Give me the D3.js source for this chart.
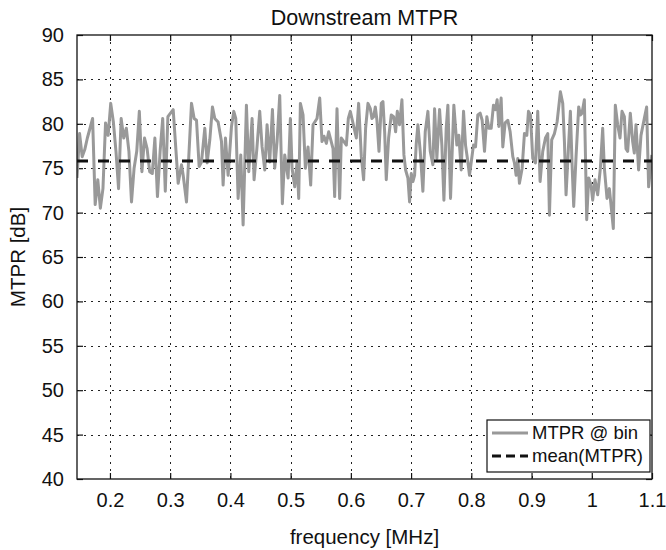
<!DOCTYPE html>
<html><head><meta charset="utf-8">
<script src="https://cdn.jsdelivr.net/npm/d3@7"></script>
<style>
body{margin:0;background:#fff}
svg text{font-family:"Liberation Sans",Arial,Helvetica,sans-serif;fill:#111}
</style>
</head><body>
<svg id="chart" width="666" height="550"></svg>
<script>
// ---- data ----
const frequencies = [
0.1453,0.1496,0.1539,0.1582,0.1625,0.1669,0.1712,0.1755,0.1798,0.1841,0.1884,0.1927,0.1970,0.2013,0.2057,0.2100,0.2143,0.2186,0.2229,0.2272,0.2315,0.2358,0.2401,0.2445,0.2488,0.2531,0.2574,0.2617,0.2660,0.2703,0.2746,0.2789,0.2833,0.2876,0.2919,0.2962,
0.3050,
0.3133,0.3188,0.3216,0.3271,0.3354,0.3398,0.3437,0.3481,0.3520,0.3575,0.3614,0.3658,0.3702,0.3741,0.3796,0.3852,0.3879,0.3918,0.3962,0.4018,0.4056,0.4089,0.4128,0.4172,0.4211,0.4266,0.4305,0.4360,0.4393,0.4438,0.4487,0.4526,
0.4571,0.4609,0.4653,0.4698,0.4736,0.4775,0.4819,0.4863,0.4902,0.4958,0.4996,0.5024,0.5068,0.5107,0.5134,0.5162,0.5206,0.5245,0.5289,0.5333,0.5372,0.5438,0.5483,0.5521,0.5554,0.5593,0.5632,0.5704,0.5731,0.5770,0.5814,0.5842,0.5925,0.5958,0.5991,0.6091,
0.6129,0.6174,0.6212,0.6245,0.6284,0.6323,0.6350,0.6378,0.6406,0.6433,0.6467,0.6505,0.6533,0.6561,0.6588,0.6627,0.6671,0.6710,0.6743,0.6771,0.6809,0.6848,0.6881,0.6909,0.6947,0.6975,0.7003,0.7030,0.7058,0.7086,0.7113,0.7152,0.7196,0.7235,0.7279,0.7318,0.7362,0.7390,0.7428,0.7473,0.7511,0.7545,0.7583,0.7611,0.7655,0.7710,
0.7760,0.7793,0.7832,0.7871,0.7904,0.7943,0.7970,0.8036,0.8070,0.8108,0.8147,0.8180,0.8219,0.8258,0.8291,0.8330,0.8368,0.8401,0.8429,0.8457,0.8495,0.8523,0.8562,0.8606,0.8645,0.8689,0.8716,0.8744,0.8772,0.8799,0.8844,0.8882,0.8921,0.8949,0.8982,0.9020,0.9065,0.9103,0.9142,0.9186,0.9231,0.9269,
0.9297,0.9335,0.9380,0.9424,0.9479,0.9518,0.9546,0.9573,0.9612,0.9645,0.9673,0.9700,0.9739,0.9783,0.9811,0.9838,0.9877,0.9916,0.9949,0.9988,1.0015,1.0054,1.0098,1.0143,1.0181,1.0209,1.0253,1.0292,1.0319,1.0358,1.0391,1.0430,1.0469,1.0502,1.0541,1.0568,1.0596,1.0640,1.0679,1.0706,1.0734,1.0778,1.0817,1.0872,1.0911,1.0944,1.0997
];
const mtprValues = [
73.9,78.9,76.3,77.1,78.4,79.5,80.6,70.9,73.7,70.5,72.7,80.1,78.7,82.3,80.2,76.9,72.7,80.6,78.4,79.5,76.9,71.2,75.0,76.9,81.4,74.6,78.4,77.2,74.6,74.4,78.4,71.8,76.9,80.6,72.4,80.8,
81.6,
73.3,75.4,74.2,71.2,82.3,80.6,80.4,75.2,75.7,79.5,75.6,78.2,81.9,80.6,80.2,78.0,73.1,78.4,74.2,79.7,81.4,80.6,71.6,76.5,68.6,82.1,74.6,80.6,73.7,77.1,81.4,77.4,
74.8,79.9,75.7,81.6,75.0,78.0,83.2,71.0,76.5,73.9,80.6,75.0,72.9,75.7,71.6,82.3,81.0,75.0,77.4,73.1,79.9,80.6,82.9,78.0,78.6,77.8,79.1,77.2,71.8,81.7,71.6,78.4,77.6,80.6,81.4,78.4,
82.3,76.3,73.7,79.5,82.3,81.7,80.6,80.8,81.9,80.4,76.9,82.3,82.5,79.1,73.7,78.4,81.0,80.8,79.1,81.4,79.9,82.7,76.5,74.8,73.9,71.2,74.4,73.5,74.2,77.8,79.9,76.9,72.4,79.1,81.4,76.9,75.4,81.7,76.1,81.6,77.6,71.4,79.5,82.1,71.6,82.1,
77.6,78.7,74.8,81.4,77.6,75.7,74.2,77.6,77.4,81.0,81.2,80.4,76.9,80.8,79.5,79.5,82.1,81.6,82.7,79.7,82.9,77.4,80.1,80.4,79.1,76.3,75.6,74.2,76.1,73.3,75.0,78.9,78.7,81.4,81.0,76.1,75.6,81.4,73.5,76.9,78.4,78.9,
69.7,78.2,78.9,80.2,83.6,82.3,78.0,72.0,77.2,81.4,75.4,70.7,76.3,81.9,81.0,81.2,82.7,69.2,73.9,73.1,71.4,73.7,72.0,75.0,79.5,75.0,71.6,72.7,70.9,68.2,82.1,79.9,78.4,81.4,80.8,77.2,76.9,81.2,78.0,76.7,79.9,74.8,78.7,80.6,81.9,72.9,76.5
];
const meanMtpr = 75.8;
const xTickValues = [0.2,0.3,0.4,0.5,0.6,0.7,0.8,0.9,1,1.1];
const yTickValues = [40,45,50,55,60,65,70,75,80,85,90];
const xDomain = [0.1453, 1.1];
const yDomain = [40, 90];
const legendLabels = ["MTPR @ bin", "mean(MTPR)"];
const titleText = "Downstream MTPR";
const xLabelText = "frequency [MHz]";
const yLabelText = "MTPR [dB]";

// ---- layout ----
const svg = d3.select("#chart");
const L = 77, R = 652, T = 35, B = 479;
const x = d3.scaleLinear().domain(xDomain).range([L, R]);
const y = d3.scaleLinear().domain(yDomain).range([B, T]);

svg.append("rect").attr("width",666).attr("height",550).attr("fill","#fff");
svg.append("defs").append("clipPath").attr("id","plotclip")
  .append("rect").attr("x",L).attr("y",T).attr("width",R-L).attr("height",B-T);

// grid
const grid = svg.append("g").attr("stroke","#222").attr("stroke-width",1).attr("stroke-dasharray","2,5");
grid.selectAll("line.gx").data(xTickValues.filter(v=>v<1.1)).join("line")
  .attr("x1",d=>Math.round(x(d))+0.5).attr("x2",d=>Math.round(x(d))+0.5).attr("y1",T).attr("y2",B);
grid.selectAll("line.gy").data(yTickValues.filter(v=>v>40&&v<90)).join("line")
  .attr("y1",d=>Math.round(y(d))+0.5).attr("y2",d=>Math.round(y(d))+0.5).attr("x1",L).attr("x2",R);

// axes
const axisStyle = g => {
  g.select(".domain").remove();
  g.selectAll(".tick line").attr("stroke","#111").attr("stroke-width",1.2);
  g.selectAll(".tick text").attr("fill","#111").style("font-size","20px")
    .style("font-family",'"Liberation Sans",Arial,sans-serif');
};
svg.append("g").attr("transform",`translate(0,${B})`)
  .call(d3.axisBottom(x).tickValues(xTickValues).tickFormat(d=>String(d)).tickSizeInner(-6).tickSizeOuter(0).tickPadding(14))
  .call(axisStyle);
svg.append("g").attr("transform",`translate(0,${T})`)
  .call(d3.axisTop(x).tickValues(xTickValues).tickFormat("").tickSizeInner(-6).tickSizeOuter(0))
  .call(axisStyle);
svg.append("g").attr("transform",`translate(${L},0)`)
  .call(d3.axisLeft(y).tickValues(yTickValues).tickFormat(d=>String(d)).tickSizeInner(-6).tickSizeOuter(0).tickPadding(13))
  .call(axisStyle);
svg.append("g").attr("transform",`translate(${R},0)`)
  .call(d3.axisRight(y).tickValues(yTickValues).tickFormat("").tickSizeInner(-6).tickSizeOuter(0))
  .call(axisStyle);

// series
const pts = frequencies.map((f,i)=>[f, mtprValues[i]]);
const plot = svg.append("g").attr("clip-path","url(#plotclip)");
plot.append("path").datum(pts)
  .attr("fill","none").attr("stroke","#999").attr("stroke-width",3).attr("stroke-linejoin","round")
  .attr("d", d3.line().x(d=>x(d[0])).y(d=>y(d[1])));
plot.append("line")
  .attr("x1",x(xDomain[0])).attr("x2",x(xDomain[1])).attr("y1",y(meanMtpr)).attr("y2",y(meanMtpr))
  .attr("stroke","#111").attr("stroke-width",3).attr("stroke-dasharray","11,10");

// frame
svg.append("rect").attr("x",L).attr("y",T).attr("width",R-L).attr("height",B-T)
  .attr("fill","none").attr("stroke","#111").attr("stroke-width",1.3);

// legend
const lg = svg.append("g");
const lx0 = 487, ly0 = 420, lw = 163, lh = 52;
lg.append("rect").attr("x",lx0).attr("y",ly0).attr("width",lw).attr("height",lh)
  .attr("fill","#fff").attr("stroke","#111").attr("stroke-width",1.2);
const styles = [{stroke:"#999",dash:null},{stroke:"#111",dash:"9,5"}];
legendLabels.forEach((lab,i)=>{
  const yy = ly0 + 13 + i*23;
  lg.append("line").attr("x1",lx0+5).attr("x2",lx0+41).attr("y1",yy).attr("y2",yy)
    .attr("stroke",styles[i].stroke).attr("stroke-width",3).attr("stroke-dasharray",styles[i].dash);
  lg.append("text").attr("x",lx0+45).attr("y",yy).attr("dy","0.35em").style("font-size","18.5px").text(lab);
});

// titles
svg.append("text").attr("x",(L+R)/2).attr("y",25).attr("text-anchor","middle").style("font-size","21.5px").text(titleText);
svg.append("text").attr("x",(L+R)/2).attr("y",544).attr("text-anchor","middle").style("font-size","20.5px").text(xLabelText);
svg.append("text").attr("transform",`translate(25,${(T+B)/2}) rotate(-90)`).attr("text-anchor","middle").style("font-size","20.5px").text(yLabelText);
</script>
</body></html>
